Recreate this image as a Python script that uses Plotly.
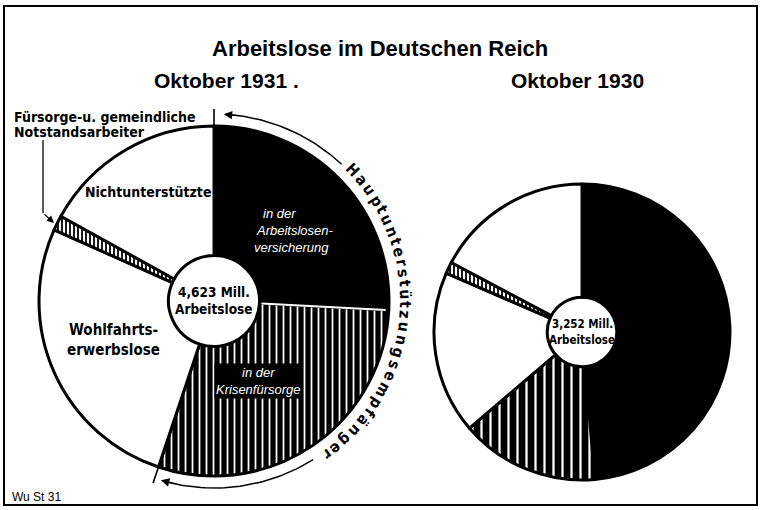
import math
import plotly.graph_objects as go

# ---------------- data ----------------
categories = ["in der Arbeitslosenversicherung", "in der Krisenfürsorge",
              "Wohlfahrtserwerbslose", "Fürsorge- u. gemeindliche Notstandsarbeiter",
              "Nichtunterstützte"]
values_1931 = [1194, 1355, 1226, 64, 784]      # Tausend, Oktober 1931 (Summe 4,623 Mill.)
values_1930 = [1581, 492, 578, 41, 560]        # Tausend, Oktober 1930 (Summe 3,252 Mill.)
total_labels = ["4,623 Mill.", "3,252 Mill."]
year_labels = ["Oktober 1931 .", "Oktober 1930"]
title_text = "Arbeitslose im Deutschen Reich"
arc_text = "Hauptunterstützungsempfänger"

W, H = 760, 510
BOLD = "Liberation Sans Narrow, DejaVu Sans Condensed, Arial Narrow, Liberation Sans, Arial"
PLAIN = "Liberation Sans, Arial, DejaVu Sans"

# pie geometry in pixels
L_CX, L_CY, L_R = 214, 301, 175
R_CX, R_CY, R_R = 582, 332, 148
L_HOLE, R_HOLE = 0.26, 0.235


def dom(cx, cy, r):
    return dict(x=[(cx - r) / W, (cx + r) / W], y=[1 - (cy + r) / H, 1 - (cy - r) / H])


def pt(cx, cy, r, deg):
    a = math.radians(deg)
    return cx + r * math.sin(a), cy - r * math.cos(a)


colors = ["black", "black", "white", "white", "white"]
shapes_pat = ["", "|", "", "|", ""]
fg = ["black", "white", "black", "black", "black"]

fig = go.Figure()

# helper axis covering the page (pixel coordinates) for decorative lines
fig.add_trace(go.Scatter(x=[0, W], y=[0, H], mode="markers",
                         marker=dict(opacity=0), hoverinfo="skip", showlegend=False))

for vals, (cx, cy, r), hole, psize in [(values_1931, (L_CX, L_CY, L_R), L_HOLE, 7),
                                       (values_1930, (R_CX, R_CY, R_R), R_HOLE, 9)]:
    fig.add_trace(go.Pie(
        labels=categories, values=vals, sort=False, direction="clockwise", rotation=0,
        hole=hole, domain=dom(cx, cy, r), textinfo="none", hoverinfo="label+value",
        showlegend=False,
        marker=dict(colors=colors,
                    line=dict(color="black", width=3),
                    pattern=dict(shape=shapes_pat, bgcolor=colors, fgcolor=fg,
                                 fgopacity=1, size=[8, psize, 8, 4, 8],
                                 solidity=[0.3, 0.25, 0.3, 0.45, 0.3]))))

# angles of the Hauptunterstützung boundaries (left pie)
tot = sum(values_1931)
alv_ang = 360 * values_1931[0] / tot
end_ang = 360 * (values_1931[0] + values_1931[1]) / tot

# boundary ticks outside the pie
for ang in (0, end_ang):
    x0, y0 = pt(L_CX, L_CY, L_R - 2, ang)
    x1, y1 = pt(L_CX, L_CY, L_R + 17, ang)
    fig.add_trace(go.Scatter(x=[x0, x1], y=[y0, y1], mode="lines",
                             line=dict(color="black", width=1.6),
                             hoverinfo="skip", showlegend=False))

# arcs of the bracket
ARC_R = 187
for a0, a1 in [(3.5, 43), (148, end_ang - 2.5)]:
    n = 40
    xs, ys = [], []
    for i in range(n + 1):
        x, y = pt(L_CX, L_CY, ARC_R, a0 + (a1 - a0) * i / n)
        xs.append(x)
        ys.append(y)
    fig.add_trace(go.Scatter(x=xs, y=ys, mode="lines", line=dict(color="black", width=1.5),
                             hoverinfo="skip", showlegend=False))

annotations = []
# arrowheads
for tip, tail in [(3.0, 8.0), (end_ang - 2.0, end_ang - 7.0)]:
    tx, ty = pt(L_CX, L_CY, ARC_R, tip)
    bx, by = pt(L_CX, L_CY, ARC_R, tail)
    annotations.append(dict(x=tx, y=ty, ax=bx, ay=by, xref="x", yref="y", axref="x", ayref="y",
                            text="", showarrow=True, arrowhead=2, arrowsize=1.2,
                            arrowwidth=1.4, arrowcolor="black"))

# curved label
cw = {"H": .72, "a": .56, "u": .61, "p": .61, "t": .36, "n": .61, "e": .56, "r": .40,
      "s": .56, "ü": .61, "z": .52, "g": .61, "m": .89, "f": .36, "ä": .56}
widths = [cw.get(c, .56) + 0.12 for c in arc_text]
a_start, a_end = 46.5, 143.5
span = sum(widths) - widths[0] / 2 - widths[-1] / 2
acc = 0.0
for i, c in enumerate(arc_text):
    if i > 0:
        acc += (widths[i - 1] + widths[i]) / 2
    ang = a_start + (a_end - a_start) * acc / span
    x, y = pt(L_CX, L_CY, 191, ang)
    annotations.append(dict(x=x, y=y, xref="x", yref="y", text=f"<b>{c}</b>", showarrow=False,
                            textangle=ang, xanchor="center", yanchor="middle",
                            font=dict(family=BOLD, size=15.5, color="black")))

# Notstand pointer
fig.add_trace(go.Scatter(x=[43, 43], y=[140, 213], mode="lines",
                         line=dict(color="black", width=1.3), hoverinfo="skip", showlegend=False))
annotations.append(dict(x=54, y=223, ax=43, ay=213, xref="x", yref="y", axref="x", ayref="y",
                        text="", showarrow=True, arrowhead=2, arrowsize=1.1,
                        arrowwidth=1.3, arrowcolor="black"))


def txt(x, y, s, size=13, family=BOLD, color="black", italic=False, bg=None,
        xanchor="center"):
    d = dict(x=x, y=y, xref="x", yref="y", text=(f"<i>{s}</i>" if italic else s),
             showarrow=False, xanchor=xanchor, yanchor="middle",
             font=dict(family=family, size=size, color=color))
    if bg:
        d["bgcolor"] = bg
    annotations.append(d)


txt(380, 48, f"<b>{title_text}</b>", size=22, family=PLAIN)
txt(226, 80, f"<b>{year_labels[0]}</b>", size=21, family=PLAIN)
txt(577, 80, f"<b>{year_labels[1]}</b>", size=21, family=PLAIN)
txt(12, 117, "<b>Fürsorge-u. gemeindliche</b>", size=14, xanchor="left")
txt(12, 132, "<b>Notstandsarbeiter</b>", size=14, xanchor="left")
txt(148, 192, "<b>Nichtunterstützte</b>", size=14)
txt(279, 213, "in der", size=13, family=PLAIN, color="white", italic=True)
txt(295, 230, "Arbeitslosen-", size=13, family=PLAIN, color="white", italic=True)
txt(291, 247, "versicherung", size=13, family=PLAIN, color="white", italic=True)
txt(L_CX, L_CY - 9, f"<b>{total_labels[0]}</b>", size=13.5)
txt(L_CX, L_CY + 8, "<b>Arbeitslose</b>", size=13.5)
txt(113, 330, "<b>Wohlfahrts-</b>", size=15)
txt(113, 350, "<b>erwerbslose</b>", size=15)
txt(258, 381, "in der<br>Krisenfürsorge", size=13, family=PLAIN, color="white",
    italic=True, bg="black")
txt(R_CX, R_CY - 8, f"<b>{total_labels[1]}</b>", size=11.5)
txt(R_CX, R_CY + 8, "<b>Arbeitslose</b>", size=11.5)
txt(10, 497, "Wu St 31", size=12, family=PLAIN, xanchor="left")

# white separator between black and striped slices (left pie), in paper coords
sx0, sy0 = pt(L_CX, L_CY, L_R * L_HOLE + 2, alv_ang)
sx1, sy1 = pt(L_CX, L_CY, L_R - 3, alv_ang)

fig.update_layout(
    width=W, height=H, margin=dict(l=0, r=0, t=0, b=0),
    paper_bgcolor="white", plot_bgcolor="rgba(0,0,0,0)",
    xaxis=dict(range=[0, W], visible=False, domain=[0, 1], fixedrange=True),
    yaxis=dict(range=[H, 0], visible=False, domain=[0, 1], fixedrange=True),
    annotations=annotations,
    shapes=[dict(type="rect", xref="paper", yref="paper",
                 x0=4 / W, x1=757 / W, y0=1 - 505 / H, y1=1 - 6 / H,
                 line=dict(color="black", width=2)),
            dict(type="line", xref="paper", yref="paper", layer="above",
                 x0=sx0 / W, y0=1 - sy0 / H, x1=sx1 / W, y1=1 - sy1 / H,
                 line=dict(color="white", width=2))],
    showlegend=False,
)

fig.write_html("out.html", config={"displayModeBar": False},
               post_script="document.body.style.margin='0';document.body.style.overflow='hidden';")
